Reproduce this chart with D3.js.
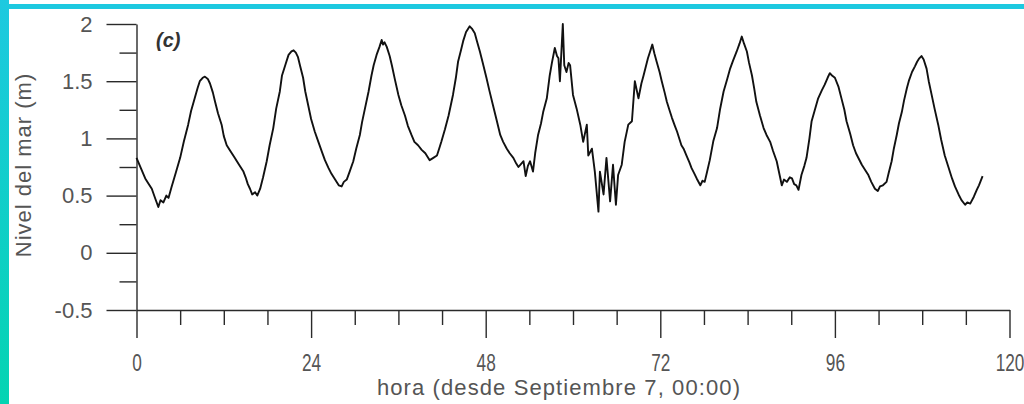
<!DOCTYPE html>
<html>
<head>
<meta charset="utf-8">
<script src="https://cdn.jsdelivr.net/npm/d3@7"></script>
<style>
  html, body { margin: 0; padding: 0; background: #fff; }
  svg { display: block; }
  text { font-family: "Liberation Sans", Arial, sans-serif; }
</style>
</head>
<body>
<svg id="chart" width="1024" height="404"></svg>
<script>
// Sea level record, hours since 7 September 00:00
const hours = [
  0.0, 0.6, 1.2, 1.7, 2.1, 2.6, 3.0, 3.3, 3.7, 4.1, 4.4, 4.8, 5.4, 6.0, 6.5, 7.1, 7.5, 8.0, 8.4, 8.7,
  9.1, 9.4, 9.8, 10.1, 10.5, 10.8, 11.2, 11.7, 12.0, 12.4, 12.9, 13.5, 14.1, 14.7, 15.0, 15.3, 15.6, 15.9, 16.3, 16.6,
  17.0, 17.4, 17.9, 18.3, 18.8, 19.2, 19.7, 20.0, 20.5, 20.9, 21.3, 21.6, 21.9, 22.2, 22.5, 22.9, 23.2, 23.6, 24.0, 24.5,
  25.0, 25.5, 25.9, 26.4, 26.8, 27.3, 27.8, 28.2, 28.5, 28.9, 29.3, 29.8, 30.2, 30.7, 31.0, 31.4, 31.9, 32.3, 32.6, 33.0,
  33.4, 33.7, 33.9, 34.1, 34.4, 34.8, 35.1, 35.5, 36.0, 36.4, 36.9, 37.3, 37.8, 38.2, 38.7, 39.2, 39.7, 40.0, 40.3, 40.8,
  41.3, 41.6, 41.9, 42.4, 42.9, 43.2, 43.5, 43.9, 44.2, 44.6, 44.9, 45.3, 45.8, 46.1, 46.5, 46.8, 47.2, 47.6, 48.1, 48.5,
  49.0, 49.5, 50.0, 50.4, 50.9, 51.3, 51.8, 52.2, 52.5, 52.9, 53.2, 53.5, 53.8, 54.1, 54.5, 54.8, 55.2, 55.6, 55.9, 56.4,
  56.8, 57.1, 57.5, 57.8, 58.0, 58.2, 58.4, 58.6, 58.8, 59.1, 59.4, 59.6, 60.0, 60.5, 61.0, 61.4, 61.9, 62.1, 62.6, 63.0,
  63.5, 63.7, 64.2, 64.6, 65.1, 65.5, 65.9, 66.2, 66.7, 67.1, 67.6, 68.1, 68.5, 69.0, 69.4, 69.7, 70.3, 70.6, 70.9, 71.2,
  71.5, 71.9, 72.2, 72.6, 72.9, 73.3, 73.6, 74.0, 74.3, 74.9, 75.2, 75.6, 76.0, 76.3, 76.7, 77.0, 77.5, 77.8, 78.1, 78.4,
  78.8, 79.3, 79.8, 80.2, 80.7, 81.2, 81.6, 82.0, 82.5, 82.9, 83.2, 83.5, 83.9, 84.2, 84.6, 84.9, 85.2, 85.7, 86.2, 86.6,
  87.1, 87.5, 88.0, 88.4, 88.7, 89.0, 89.4, 89.8, 90.1, 90.4, 90.7, 91.0, 91.4, 91.8, 92.1, 92.5, 92.8, 93.2, 93.7, 94.2,
  94.6, 95.0, 95.3, 95.6, 96.0, 96.5, 96.9, 97.3, 97.6, 98.1, 98.5, 98.9, 99.3, 99.7, 100.2, 100.6, 101.0, 101.5, 101.9, 102.2,
  102.6, 103.1, 103.4, 103.8, 104.1, 104.5, 104.8, 105.2, 105.5, 105.9, 106.2, 106.6, 107.0, 107.3, 107.6, 107.9, 108.2, 108.6, 108.9, 109.3,
  109.7, 110.2, 110.6, 111.1, 111.6, 112.1, 112.5, 113.0, 113.4, 113.9, 114.2, 114.6, 115.1, 115.5, 115.8, 116.3
];
const level = [
  0.83, 0.74, 0.65, 0.60, 0.56, 0.47, 0.40, 0.46, 0.44, 0.50, 0.48, 0.57, 0.70, 0.83, 0.97, 1.12, 1.24, 1.35, 1.44, 1.50,
  1.53, 1.54, 1.52, 1.48, 1.40, 1.32, 1.22, 1.12, 1.02, 0.94, 0.89, 0.83, 0.77, 0.71, 0.66, 0.60, 0.56, 0.51, 0.53, 0.50,
  0.56, 0.66, 0.80, 0.94, 1.09, 1.26, 1.41, 1.55, 1.65, 1.73, 1.76, 1.77, 1.75, 1.71, 1.63, 1.53, 1.41, 1.29, 1.17, 1.06,
  0.97, 0.88, 0.81, 0.74, 0.69, 0.64, 0.59, 0.58, 0.62, 0.64, 0.71, 0.80, 0.91, 1.03, 1.14, 1.26, 1.41, 1.55, 1.64, 1.73,
  1.80, 1.86, 1.82, 1.84, 1.80, 1.72, 1.64, 1.52, 1.38, 1.29, 1.20, 1.11, 1.03, 0.97, 0.94, 0.90, 0.87, 0.84, 0.81, 0.83,
  0.85, 0.91, 0.97, 1.08, 1.20, 1.29, 1.38, 1.53, 1.67, 1.77, 1.85, 1.93, 1.98, 1.96, 1.92, 1.85, 1.76, 1.66, 1.53, 1.42,
  1.29, 1.16, 1.03, 0.97, 0.91, 0.87, 0.83, 0.78, 0.75, 0.78, 0.80, 0.67, 0.76, 0.80, 0.71, 0.87, 1.03, 1.13, 1.23, 1.35,
  1.55, 1.66, 1.79, 1.72, 1.70, 1.50, 1.75, 2.00, 1.64, 1.58, 1.66, 1.64, 1.38, 1.26, 1.12, 0.97, 1.12, 0.85, 0.91, 0.71,
  0.36, 0.71, 0.51, 0.83, 0.45, 0.77, 0.42, 0.68, 0.77, 0.97, 1.12, 1.15, 1.50, 1.35, 1.48, 1.55, 1.70, 1.76, 1.82, 1.74,
  1.67, 1.58, 1.50, 1.40, 1.32, 1.24, 1.18, 1.11, 1.06, 0.94, 0.91, 0.85, 0.79, 0.74, 0.69, 0.65, 0.59, 0.63, 0.62, 0.70,
  0.81, 0.98, 1.09, 1.25, 1.41, 1.52, 1.61, 1.68, 1.76, 1.83, 1.89, 1.83, 1.76, 1.66, 1.55, 1.44, 1.32, 1.20, 1.09, 1.03,
  0.97, 0.89, 0.80, 0.68, 0.59, 0.64, 0.62, 0.66, 0.65, 0.60, 0.59, 0.55, 0.68, 0.76, 0.83, 1.00, 1.15, 1.24, 1.35, 1.42,
  1.47, 1.53, 1.57, 1.55, 1.53, 1.45, 1.35, 1.25, 1.15, 1.04, 0.94, 0.87, 0.82, 0.77, 0.72, 0.68, 0.62, 0.56, 0.54, 0.58,
  0.59, 0.62, 0.70, 0.80, 0.91, 1.03, 1.13, 1.23, 1.33, 1.44, 1.51, 1.58, 1.63, 1.67, 1.70, 1.72, 1.69, 1.61, 1.50, 1.38,
  1.26, 1.12, 0.99, 0.85, 0.75, 0.65, 0.58, 0.51, 0.46, 0.42, 0.44, 0.43, 0.49, 0.55, 0.59, 0.67
];

// Axis ticks
const xMajorTicks = [0, 24, 48, 72, 96, 120];
const xMinorTicks = [6, 12, 18, 30, 36, 42, 54, 60, 66, 78, 84, 90, 102, 108, 114];
const yMajorTicks = [-0.5, 0, 0.5, 1, 1.5, 2];
const yMinorTicks = [-0.25, 0.25, 0.75, 1.25, 1.75];

const xTitle = "hora (desde Septiembre 7, 00:00)";
const yTitle = "Nivel del mar  (m)";
const panelTag = "(c)";

const svg = d3.select("#chart");

// Cyan frame along the top and left edges
const defs = svg.append("defs");
const grad = defs.append("linearGradient")
  .attr("id", "edgeGrad").attr("x1", 0).attr("y1", 0).attr("x2", 0).attr("y2", 1);
grad.append("stop").attr("offset", "0%").attr("stop-color", "#1dc9e0");
grad.append("stop").attr("offset", "100%").attr("stop-color", "#04d4b2");
svg.append("rect").attr("x", 0).attr("y", 4).attr("width", 1024).attr("height", 5).attr("fill", "#1dc9e0");
svg.append("rect").attr("x", 0).attr("y", 0).attr("width", 9).attr("height", 404).attr("fill", "url(#edgeGrad)");

const x = d3.scaleLinear().domain([0, 120]).range([136.5, 1009.5]);
const y = d3.scaleLinear().domain([-0.5, 2]).range([310, 24]);

const axisColor = "#2a2a2a";
const labelColor = "#555";

// X axis: major ticks labelled, minor ticks plain
const xAxis = svg.append("g").attr("transform", `translate(0,${y(-0.5)})`);
xAxis.call(d3.axisBottom(x).tickValues(xMajorTicks).tickSize(28).tickSizeOuter(0).tickPadding(17));
xAxis.append("g").call(d3.axisBottom(x).tickValues(xMinorTicks).tickSize(15).tickFormat(""))
  .call(g => g.select(".domain").remove());

// Y axis
const yAxis = svg.append("g").attr("transform", `translate(${x(0)},0)`);
yAxis.call(d3.axisLeft(y).tickValues(yMajorTicks).tickSize(30).tickSizeOuter(0).tickPadding(14)
  .tickFormat(d => String(d)));
yAxis.append("g").call(d3.axisLeft(y).tickValues(yMinorTicks).tickSize(17).tickFormat(""))
  .call(g => g.select(".domain").remove());

svg.selectAll(".domain, .tick line").attr("stroke", axisColor).attr("stroke-width", 1.4);
svg.selectAll(".tick text").attr("fill", labelColor).attr("font-size", 22)
  .attr("font-family", "'Liberation Sans', Arial, sans-serif");
// Tall, narrow digits along the time axis
xAxis.selectAll(".tick text").attr("font-size", 23).attr("transform", "scale(0.75,1)");

// Sea level trace
const line = d3.line().x((d, i) => x(hours[i])).y(d => y(d));
svg.append("path")
  .datum(level)
  .attr("d", line)
  .attr("fill", "none")
  .attr("stroke", "#111")
  .attr("stroke-width", 1.9)
  .attr("stroke-linejoin", "round");

// Panel tag
svg.append("text")
  .attr("x", 156).attr("y", 47)
  .attr("font-size", 20).attr("font-weight", "bold").attr("font-style", "italic")
  .attr("fill", "#333")
  .text(panelTag);

// Axis titles
svg.append("text")
  .attr("x", 559).attr("y", 395)
  .attr("text-anchor", "middle")
  .attr("font-size", 22)
  .attr("letter-spacing", 1.1)
  .attr("fill", labelColor)
  .text(xTitle);

svg.append("text")
  .attr("transform", "translate(31,165) rotate(-90)")
  .attr("text-anchor", "middle")
  .attr("font-size", 22)
  .attr("letter-spacing", 1)
  .attr("fill", labelColor)
  .text(yTitle);
</script>
</body>
</html>
